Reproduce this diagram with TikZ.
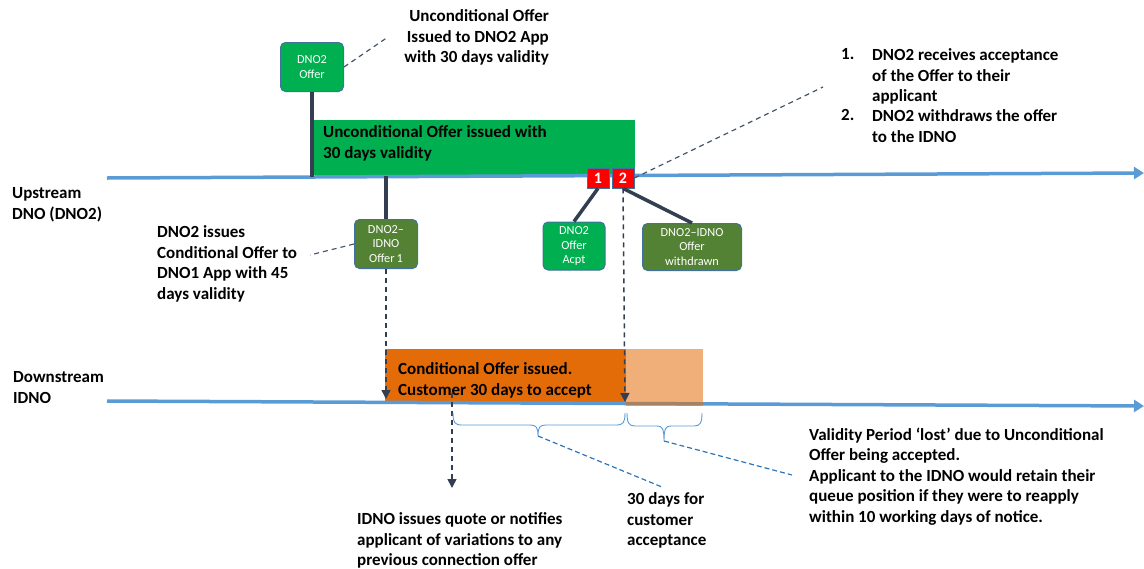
\documentclass[tikz,border=0pt]{standalone}
\usepackage{fontspec}
\setmainfont{Carlito}
\usetikzlibrary{arrows.meta}
\definecolor{lineblue}{HTML}{5B9BD5}
\definecolor{notblue}{HTML}{2E75B6}
\definecolor{stem}{HTML}{333F50}
\definecolor{ugreen}{HTML}{00B050}
\definecolor{olive}{HTML}{548235}
\definecolor{boxborder}{HTML}{41719C}
\definecolor{dorange}{HTML}{E36C09}
\definecolor{dashgray}{HTML}{44546A}
\begin{document}
\begin{tikzpicture}[x=1pt,y=-1pt,
  lbl/.style={font=\fontsize{17}{20.5}\selectfont\bfseries, align=left, inner sep=0pt, anchor=north west},
  evbox/.style={draw=boxborder, line width=1pt, rounded corners=5pt, text=white, font=\fontsize{12.3}{14.2}\selectfont, align=center, inner sep=0pt},
  sq/.style={fill=red, draw=boxborder, line width=0.8pt, minimum width=22pt, minimum height=20pt, inner sep=0pt, text=white, font=\fontsize{16}{18}\selectfont\bfseries},
  timeline/.style={draw=lineblue, line width=3.5pt, -{Triangle[length=10pt,width=12pt]}},
  stemline/.style={draw=stem, line width=3.5pt},
  note/.style={draw=dashgray, line width=1.2pt, dash pattern=on 5pt off 4pt},
  bnote/.style={draw=notblue, line width=1.2pt, dash pattern=on 5pt off 3pt},
  darrow/.style={draw=stem, line width=1.5pt, dash pattern=on 5pt off 4pt, -{Triangle[length=9pt,width=9pt]}},
  bracepath/.style={draw=lineblue, line width=0.9pt},
  bar/.style={inner sep=0pt, anchor=north west}
]
\useasboundingbox (0,0) rectangle (1144,568);

% green validity bar
\node[bar, fill=ugreen, minimum width=322pt, minimum height=55pt] (uncond) at (313,120) {};
\node[lbl] (uncondtxt) at (323,125.5) {Unconditional Offer issued with\\30 days validity};

% dark orange bar
\node[bar, fill=dorange, minimum width=241pt, minimum height=53pt] (cond) at (385,349) {};
\node[lbl] (condtxt) at (398,362.5) {Conditional Offer issued.\\Customer 30 days to accept};

% timelines
\coordinate (u0) at (107,178);
\coordinate (u1) at (1144,173);
\coordinate (d0) at (107,401);
\coordinate (d1) at (1144,406);
\draw[timeline] (u0) -- (u1);
\draw[timeline] (d0) -- (d1);

% lost period (translucent)
\node[bar, fill=dorange, fill opacity=0.55, minimum width=77pt, minimum height=57pt] (lost) at (626,349) {};

% event boxes
\node[evbox, fill=ugreen, minimum width=63pt, minimum height=49pt] (offer) at (312,67) {DNO2\\Offer};
\node[evbox, fill=olive, minimum width=63pt, minimum height=49pt] (off1) at (386,244) {DNO2–\\IDNO\\Offer\,1};
\node[evbox, fill=ugreen, minimum width=62pt, minimum height=48pt] (acpt) at (574,246) {DNO2\\Offer\\Acpt};
\node[evbox, fill=olive, minimum width=99pt, minimum height=47pt] (wd) at (692,247) {DNO2–IDNO\\Offer\\withdrawn};

% red markers
\node[sq] (sq1) at (598,178) {1};
\node[sq] (sq2) at (623,178) {2};

% stems
\coordinate (s0) at (312,177);
\coordinate (s1) at (386,176);
\draw[stemline] (offer.south) -- (s0);
\draw[stemline] (s1) -- (off1.north);
\draw[stemline] (sq1.south) -- (acpt.north);
\draw[stemline] (sq2.south) -- (wd.north);

% dashed note leaders
\coordinate (n1) at (388,37);
\coordinate (n2) at (310,255);
\coordinate (n3) at (823,87);
\draw[note] (offer.east) -- (n1);
\draw[note] (off1.west) -- (n2);
\draw[note] (sq2.east) -- (n3);

% dashed arrows
\coordinate (a1) at (386,399);
\coordinate (a2) at (625,402);
\coordinate (a3t) at (452,393);
\coordinate (a3) at (452,488);
\draw[darrow] (off1.south) -- (a1);
\draw[darrow] (sq2.south) -- (a2);
\draw[darrow] (a3t) -- (a3);

% braces
\draw[bracepath] (453,413) .. controls (453,423) and (455,425) .. (462,425) -- (530,425)
  .. controls (536,425) and (538,427) .. (538,436) .. controls (538,427) and (540,425) .. (546,425)
  -- (616,425) .. controls (623,425) and (625,423) .. (625,413);
\draw[bracepath] (627,413) .. controls (627,423) and (629,426) .. (635,426) -- (657,426)
  .. controls (662,426) and (664,428) .. (664,441) .. controls (664,428) and (666,426) .. (671,426)
  -- (694,426) .. controls (700,426) and (702,423) .. (702,413);
\coordinate (b1) at (538,436);
\coordinate (b1e) at (662,487);
\coordinate (b2) at (664,441);
\coordinate (b2e) at (792,475);
\draw[bnote] (b1) -- (b1e);
\draw[bnote] (b2) -- (b2e);

% texts
\node[lbl, align=right, anchor=north east] (t1) at (549,9.5) {Unconditional Offer\\Issued to DNO2 App\\with 30 days validity};
\node[lbl] (l1) at (841,48.5) {1.};
\node[lbl] (l1t) at (872,48.5) {DNO2 receives acceptance\\of the Offer to their\\applicant};
\node[lbl] (l2) at (841,109.5) {2.};
\node[lbl] (l2t) at (872,109.5) {DNO2 withdraws the offer\\to the IDNO};
\node[lbl] (up) at (12,187.5) {Upstream\\DNO (DNO2)};
\node[lbl] (down) at (13,371.5) {Downstream\\IDNO};
\node[lbl] (issues) at (157,225.5) {DNO2 issues\\Conditional Offer to\\DNO1 App with 45\\days validity};
\node[lbl] (idno) at (357,512.5) {IDNO issues quote or notifies\\applicant of variations to any\\previous connection offer};
\node[lbl] (days) at (627,492.5) {30 days for\\customer\\acceptance};
\node[lbl] (valid) at (809,427.5) {Validity Period ‘lost’ due to Unconditional\\Offer being accepted.\\Applicant to the IDNO would retain their\\queue position if they were to reapply\\within 10 working days of notice.};
\end{tikzpicture}
\end{document}
